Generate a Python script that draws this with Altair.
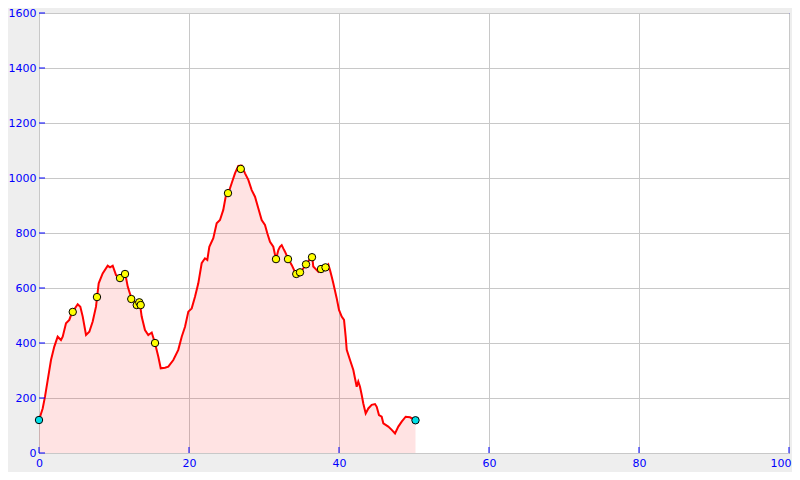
import altair as alt
import pandas as pd

# Elevation profile (distance km, elevation m)
dist = [0.0, 0.49, 0.8, 1.16, 1.6, 2.04, 2.49, 2.93, 3.16, 3.6, 4.04, 4.36, 5.16, 5.51, 5.83,
        6.27, 6.71, 7.16, 7.6, 7.96, 8.49, 9.16, 9.47, 9.83, 10.27, 10.84, 11.24, 11.51, 11.83,
        12.36, 12.93, 13.47, 13.69, 14.13, 14.57, 15.03, 15.47, 15.91, 16.23, 16.8, 17.24, 17.91,
        18.57, 19.03, 19.47, 19.91, 20.36, 20.8, 21.24, 21.69, 22.13, 22.44, 22.71, 23.24, 23.69,
        24.13, 24.57, 24.93, 25.24, 25.69, 26.13, 26.57, 27.03, 27.47, 27.91, 28.36, 28.8, 29.24,
        29.69, 30.13, 30.44, 30.8, 31.24, 31.6, 31.91, 32.13, 32.36, 32.57, 32.8, 33.24, 33.69,
        34.27, 34.8, 35.24, 35.6, 36.04, 36.44, 36.57, 37.03, 37.24, 37.56, 38.17, 38.57, 38.8,
        39.03, 39.24, 39.69, 40.0, 40.36, 40.67, 40.89, 41.03, 41.47, 41.91, 42.13, 42.36, 42.57,
        42.8, 43.03, 43.24, 43.56, 43.91, 44.36, 44.8, 45.03, 45.33, 45.69, 45.91, 46.57, 47.03,
        47.47, 47.91, 48.36, 48.89, 49.47, 50.2]
elev = [120, 162, 205, 265, 338, 387, 423, 411, 423, 472, 484, 508, 541, 532, 496,
        429, 441, 478, 532, 617, 653, 681, 675, 681, 647, 635, 645, 651, 605,
        559, 545, 540, 496, 447, 429, 438, 399, 350, 308, 310, 314, 338,
        375, 423, 459, 514, 526, 568, 617, 690, 708, 702, 750, 781, 835,
        847, 884, 938, 944, 981, 1017, 1044, 1045, 1017, 993, 956, 932, 890,
        847, 829, 799, 768, 750, 704, 738, 750, 756, 744, 732, 705, 684,
        650, 657, 671, 686, 702, 712, 678, 665, 659, 669, 675, 686, 665,
        641, 617, 563, 520, 496, 484, 423, 375, 338, 302, 272, 241, 260,
        241, 211, 180, 144, 162, 175, 178, 168, 138, 132, 108, 96, 84,
        71, 96, 114, 132, 130, 119]

# Waypoints (yellow)
wp_dist = [4.5, 7.73, 10.8, 11.47, 12.3, 13.03, 13.37, 13.56, 15.47, 25.2, 26.9,
           31.6, 33.2, 34.3, 34.8, 35.6, 36.4, 37.6, 38.2]
wp_elev = [513, 567, 636, 651, 560, 538, 548, 538, 400, 945, 1033,
           705, 705, 651, 657, 686, 712, 669, 675]

# Start / end points (cyan)
se_dist = [0.0, 50.2]
se_elev = [120, 119]

x_ticks = [0, 20, 40, 60, 80, 100]
y_ticks = [0, 200, 400, 600, 800, 1000, 1200, 1400, 1600]

BLUE = "#0000ff"
prof = pd.DataFrame({"d": dist, "e": elev})
wp = pd.DataFrame({"d": wp_dist, "e": wp_elev})
se = pd.DataFrame({"d": se_dist, "e": se_elev})
xt = pd.DataFrame({"v": x_ticks})
yt = pd.DataFrame({"v": y_ticks})

xs = alt.Scale(domain=[0, 100], nice=False)
ys = alt.Scale(domain=[0, 1600], nice=False)
xax = alt.Axis(values=x_ticks, title=None, labelColor=BLUE, labelFontSize=11, format="d",
               labelFont="DejaVu Sans", domain=False, ticks=False, grid=True,
               gridColor="#c8c8c8", labelPadding=4,
               labelAlign={"condition": {"test": "datum.value == 100", "value": "right"},
                           "value": "center"},
               labelOffset={"condition": {"test": "datum.value == 100", "value": 2},
                            "value": 0})
yax = alt.Axis(values=y_ticks, title=None, labelColor=BLUE, labelFontSize=11, format="d",
               labelFont="DejaVu Sans", domain=False, ticks=False, grid=True,
               gridColor="#c8c8c8", labelPadding=3)

area = alt.Chart(prof).mark_area(color="red", fillOpacity=0.11).encode(
    x=alt.X("d:Q", scale=xs, axis=xax), y=alt.Y("e:Q", scale=ys, axis=yax))
line = alt.Chart(prof).mark_line(color="red", strokeWidth=2).encode(
    x=alt.X("d:Q", scale=xs), y=alt.Y("e:Q", scale=ys))
pts = alt.Chart(wp).mark_point(shape="circle", filled=True, fill="#ffff00", stroke="black",
                               strokeWidth=1, size=55, opacity=1).encode(
    x=alt.X("d:Q", scale=xs), y=alt.Y("e:Q", scale=ys))
sep = alt.Chart(se).mark_point(shape="circle", filled=True, fill="#00e0e8", stroke="black",
                               strokeWidth=1, size=55, opacity=1).encode(
    x=alt.X("d:Q", scale=xs), y=alt.Y("e:Q", scale=ys))
xtick = alt.Chart(xt).mark_rule(color=BLUE, strokeWidth=1).encode(
    x=alt.X("v:Q", scale=xs), y=alt.value(440), y2=alt.value(434))
ytick = alt.Chart(yt).mark_rule(color=BLUE, strokeWidth=1).encode(
    y=alt.Y("v:Q", scale=ys), x=alt.value(0), x2=alt.value(6))

chart = alt.layer(area, line, pts, sep, xtick, ytick).properties(
    width=750, height=440,
    autosize=alt.AutoSizeParams(type="none"),
    padding={"left": 31, "top": 5, "right": 3, "bottom": 19},
    background="#eeeeee",
).configure_view(stroke=BLUE, strokeWidth=1, fill="white")

chart.save("out.html", embed_options={"renderer": "svg", "actions": False})
